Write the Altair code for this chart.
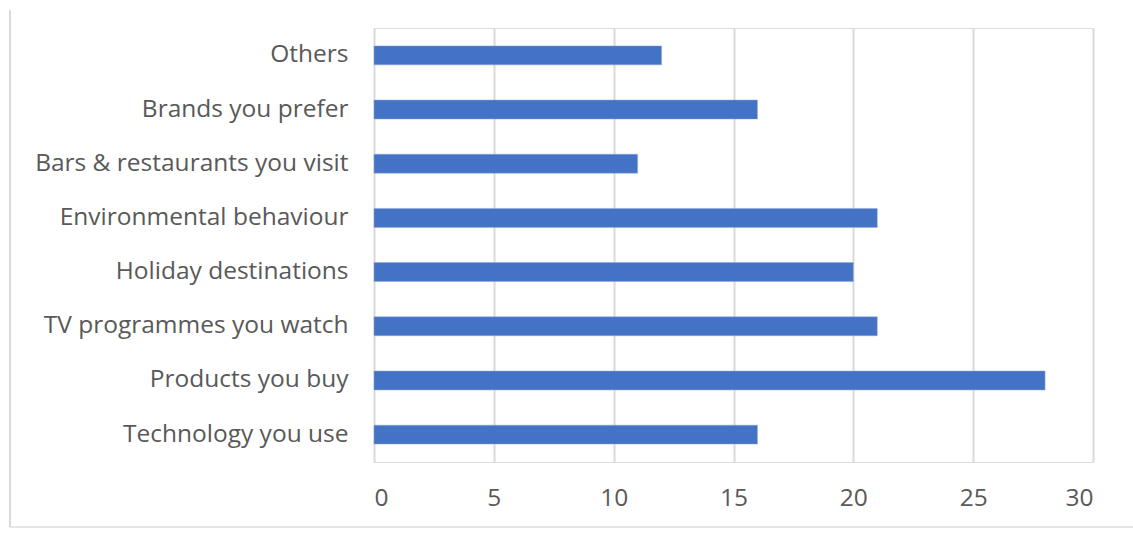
import altair as alt
import pandas as pd

categories = ["Others", "Brands you prefer", "Bars & restaurants you visit",
              "Environmental behaviour", "Holiday destinations",
              "TV programmes you watch", "Products you buy", "Technology you use"]
values = [12, 16, 11, 21, 20, 21, 28, 16]
x_ticks = [0, 5, 10, 15, 20, 25, 30]

df = pd.DataFrame({"category": categories, "value": values})

FONT = "Open Sans"
GRAY = "#595959"

bars = alt.Chart(df).mark_bar(color="#4472C4", stroke="#8FAADC", strokeWidth=0.5).encode(
    y=alt.Y("category:N", sort=categories, title=None,
            scale=alt.Scale(paddingInner=0.65, paddingOuter=0.33),
            axis=alt.Axis(labelFont=FONT, labelFontSize=24.5, labelColor=GRAY,
                          labelPadding=26, ticks=False, domain=False, grid=False,
                          labelLimit=400)),
    x=alt.X("value:Q", title=None,
            scale=alt.Scale(domain=[0, 30], nice=False),
            axis=alt.Axis(values=x_ticks, labelFont=FONT, labelFontSize=24.5,
                          labelColor=GRAY, labelPadding=24, ticks=False,
                          domain=False, grid=True, gridColor="#D9D9D9",
                          gridWidth=2)),
)

border_left = alt.Chart(df).mark_rule(color="#D9D9D9", strokeWidth=1.5).encode(
    x=alt.value(-364), y=alt.value(-18), y2=alt.value(499))
border_bottom = alt.Chart(df).mark_rule(color="#E6E6E6", strokeWidth=1.5).encode(
    x=alt.value(-364), x2=alt.value(759), y=alt.value(499))

chart = alt.layer(bars, border_left, border_bottom).properties(
    width=719, height=434,
    autosize=alt.AutoSizeParams(type="none"),
    padding={"left": 374, "top": 28, "right": 40, "bottom": 71},
).configure_view(stroke=None).configure(background="white")

chart.save("out.html", embed_options={"renderer": "svg", "actions": False})
